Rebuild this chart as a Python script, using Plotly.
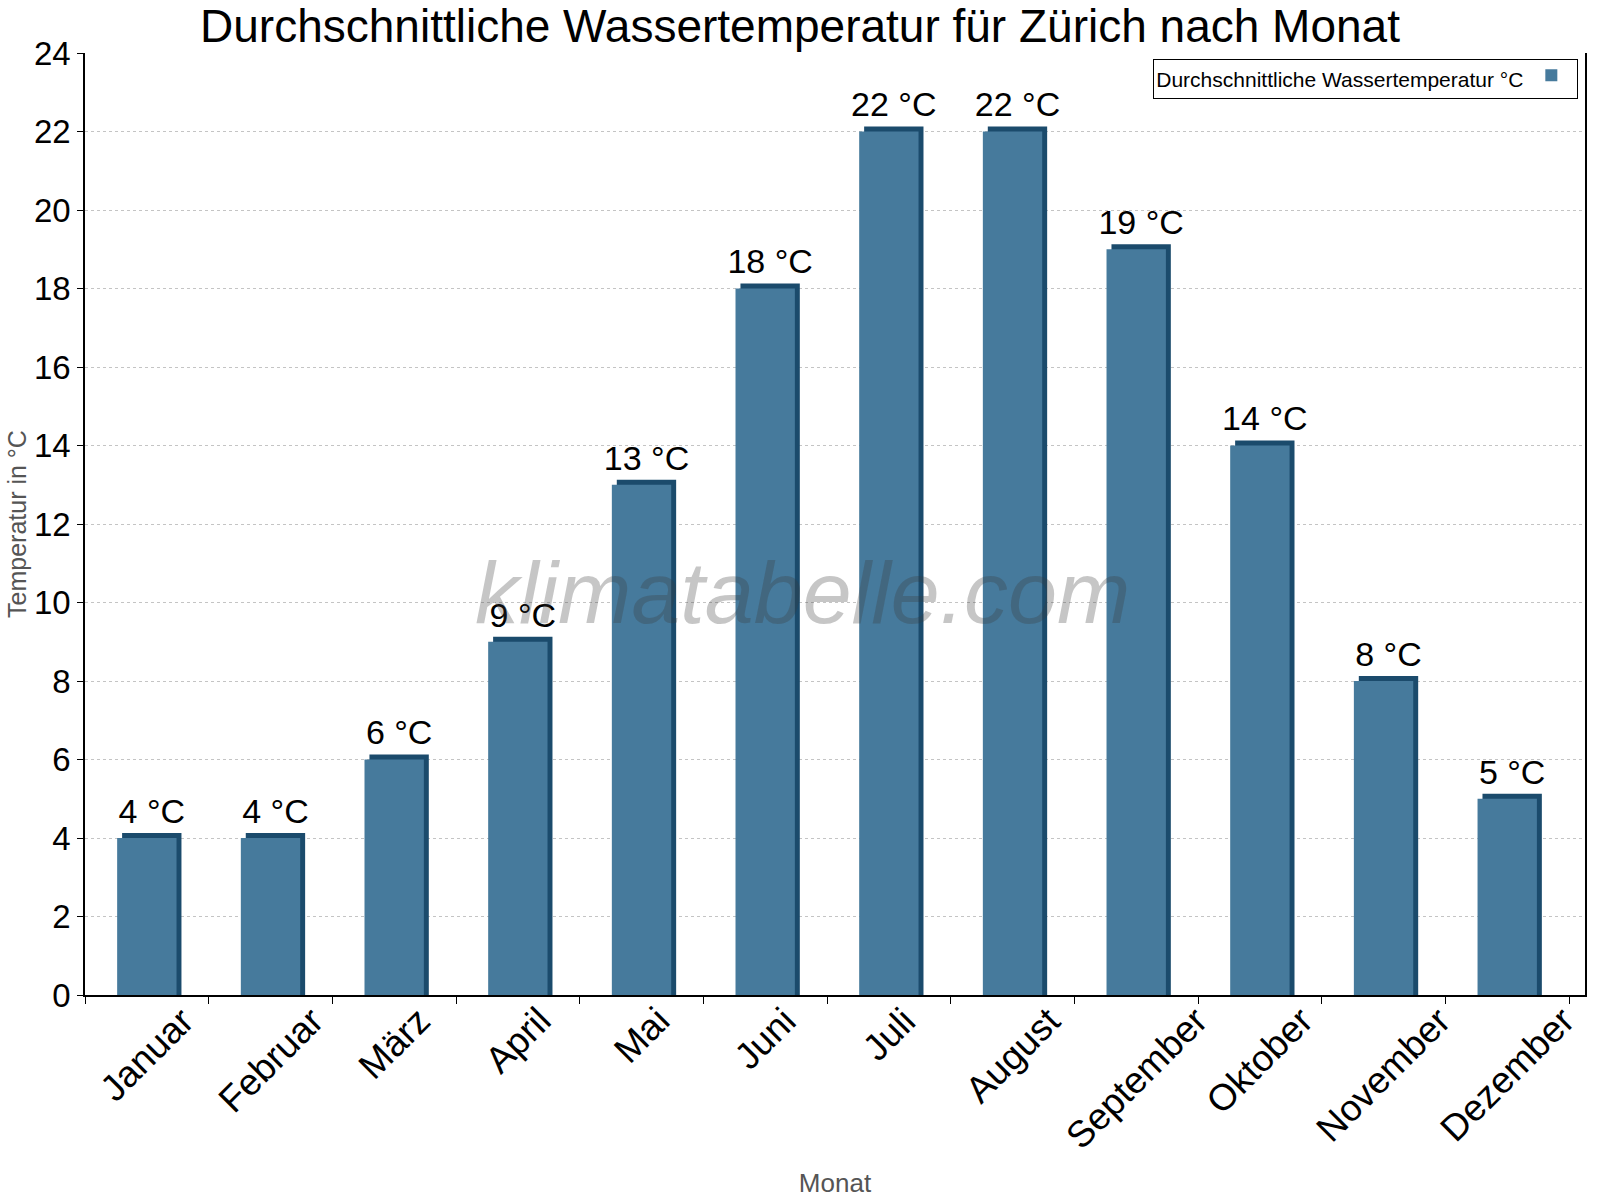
import plotly.graph_objects as go

# monthly water temperature, Zürich
months = ['Januar', 'Februar', 'März', 'April', 'Mai', 'Juni', 'Juli',
          'August', 'September', 'Oktober', 'November', 'Dezember']
water_temp = [4, 4, 6, 9, 13, 18, 22, 22, 19, 14, 8, 5]
labels = [f'{v} °C' for v in water_temp]

front_col = '#467a9c'
side_col = '#1b4b6c'
bar_w = 0.48

fig = go.Figure()

# darker bar behind, shifted a bit right and up -> fake 3d side/top
fig.add_trace(go.Bar(
    x=months, y=[v + 0.13 for v in water_temp],
    width=bar_w, offset=-bar_w / 2 + 0.04,
    marker=dict(color=side_col, line=dict(width=0)),
    text=labels, textposition='outside', cliponaxis=False,
    constraintext='none',
    textfont=dict(size=34, color='black', family='Arial'),
    showlegend=False, hoverinfo='skip',
))

fig.add_trace(go.Bar(
    x=months, y=water_temp,
    width=bar_w, offset=-bar_w / 2,
    marker=dict(color=front_col, line=dict(width=0)),
    name='',
))

# month names rotated around their centre, below the axis
month_notes = [dict(
    text=m, xref='x', x=m, yref='paper', y=-0.002,
    xanchor='center', yanchor='top', textangle=-45, showarrow=False,
    font=dict(size=37, color='black'),
) for m in months]

fig.update_layout(
    barmode='overlay',
    width=1600, height=1200,
    paper_bgcolor='white', plot_bgcolor='white',
    font=dict(family='Arial', color='black'),
    margin=dict(l=85, r=15, t=53, b=205),
    title=dict(text='Durchschnittliche Wassertemperatur für Zürich nach Monat',
               x=0.5, xanchor='center', y=1 - 26 / 1200, yanchor='middle',
               font=dict(size=46, color='black')),
    legend=dict(
        title=dict(text='Durchschnittliche Wassertemperatur °C', side='left',
                   font=dict(size=21)),
        x=0.9955, xanchor='right', y=0.994, yanchor='top',
        bordercolor='black', borderwidth=1, bgcolor='white',
        font=dict(size=14), itemwidth=30,
    ),
    annotations=[dict(
        text='<i>klimatabelle.com</i>', xref='paper', yref='paper',
        x=0.478, y=0.427, showarrow=False,
        font=dict(size=88, color='rgba(60,60,60,0.29)', family='Arial'),
    )] + month_notes,
)

fig.update_yaxes(
    range=[0, 24], dtick=2, automargin=False,
    showline=True, linecolor='black', linewidth=1.5, mirror=True,
    ticks='outside', ticklen=6, tickcolor='black',
    tickfont=dict(size=33),
    showgrid=True, gridcolor='#c4c4c4', griddash='dot', gridwidth=1,
    zeroline=False,
    title=dict(text='Temperatur in °C', font=dict(size=25, color='#555555'),
               standoff=0),
)

fig.update_xaxes(
    automargin=False,
    showline=True, linecolor='black', linewidth=1.5,
    ticks='outside', ticklen=7, tickcolor='black', tickson='boundaries',
    showticklabels=False,
    showgrid=False,
    title=dict(text='Monat', font=dict(size=26, color='#555555'), standoff=178),
)

# page body has a default margin, drop it so the figure sits at 0,0
fig.write_html('out.html', config={'displayModeBar': False},
               post_script="document.body.style.margin='0px';")
